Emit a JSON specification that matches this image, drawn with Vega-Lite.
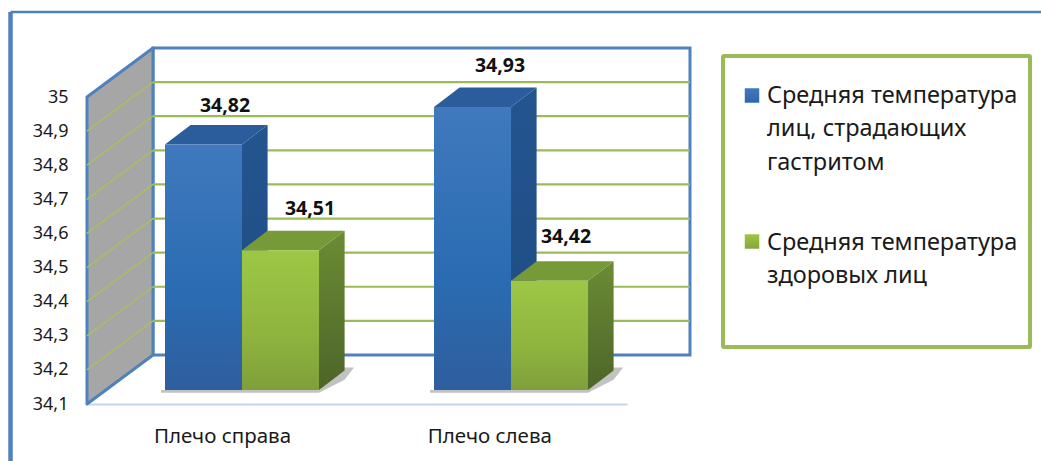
{
"$schema":"https://vega.github.io/schema/vega-lite/v6.json",
"width":540,"height":307,
"autosize":{"type":"none"},
"padding":{"left":87,"top":97,"right":414,"bottom":57},
"background":"white",
"config":{"view":{"stroke":null},"font":"Noto Sans"},
"datasets":{
 "bars":[
  {"shoulder":"Плечо справа","series":"Средняя температура лиц, страдающих гастритом","value":34.82},
  {"shoulder":"Плечо справа","series":"Средняя температура здоровых лиц","value":34.51},
  {"shoulder":"Плечо слева","series":"Средняя температура лиц, страдающих гастритом","value":34.93},
  {"shoulder":"Плечо слева","series":"Средняя температура здоровых лиц","value":34.42}
 ],
 "ticks":[{"tick":34.2},{"tick":34.3},{"tick":34.4},{"tick":34.5},{"tick":34.6},{"tick":34.7},{"tick":34.8},{"tick":34.9}],
 "wall":[{"a":0,"low":34.1,"high":35},{"a":0.2444,"low":34.2437,"high":35.1437}],
 "legendLines":[
  {"group":0,"line":0,"label":"Средняя температура"},
  {"group":0,"line":1,"label":"лиц, страдающих"},
  {"group":0,"line":2,"label":"гастритом"},
  {"group":1,"line":0,"label":"Средняя температура"},
  {"group":1,"line":1,"label":"здоровых лиц"}
 ],
 "one":[{"k":1}]
},
"data":{"name":"bars"},
"transform":[
 {"calculate":"datum.shoulder==='Плечо справа'?0:1","as":"g"},
 {"calculate":"datum.series==='Средняя температура здоровых лиц'?1:0","as":"s"},
 {"calculate":"0.2889+datum.g*0.9963+datum.s*0.2852","as":"x0"},
 {"calculate":"datum.x0+0.2852","as":"x1"},
 {"calculate":"datum.value+0.041","as":"top"},
 {"calculate":"34.141","as":"base"}
],
"layer":[
 {"data":{"name":"one"},"mark":{"type":"rule","color":"#4f81bd","strokeWidth":4.5},
  "encoding":{"x":{"datum":-0.2833,"type":"quantitative","scale":{"domain":[0,2],"nice":false},"axis":{"title":null,"values":[0.5,1.49],"tickCount":5,"labelExpr":"datum.value<1?'Плечо справа':'Плечо слева'","labelOverlap":false,"domainColor":"#c6d5e8","domainWidth":2,"ticks":false,"grid":false,"labelFont":"Noto Sans","labelFontSize":20.5,"labelColor":"#1a1a1a","labelPadding":22}},
   "y":{"datum":35.2492,"type":"quantitative","scale":{"domain":[34.1,35],"nice":false},"axis":{"title":null,"values":[34.1,34.2,34.3,34.4,34.5,34.6,34.7,34.8,34.9,35],"tickCount":12,"labelExpr":"replace(format(datum.value,'.1~f'),'.',',')","labelOverlap":false,"domain":false,"ticks":false,"grid":false,"labelFont":"Noto Sans","labelFontSize":18,"labelColor":"#1a1a1a","labelPadding":19}},
   "y2":{"datum":33.9329}}},
 {"data":{"name":"one"},"mark":{"type":"rule","color":"#4f81bd","strokeWidth":2.5},
  "encoding":{"x":{"datum":-0.2833,"type":"quantitative","scale":{"domain":[0,2],"nice":false}},"x2":{"datum":3.5333},
   "y":{"datum":35.2492,"type":"quantitative","scale":{"domain":[34.1,35],"nice":false}}}},
 {"data":{"name":"one"},"mark":{"type":"rect","fill":"white","stroke":"#4f81bd","strokeWidth":3},
  "encoding":{"x":{"datum":0.2444,"type":"quantitative","scale":{"domain":[0,2],"nice":false}},"x2":{"datum":2.2333},
   "y":{"datum":34.2437,"type":"quantitative","scale":{"domain":[34.1,35],"nice":false}},"y2":{"datum":35.1437}}},
 {"data":{"name":"wall"},"mark":{"type":"area","fill":"#a6a6a6","stroke":"#4f81bd","strokeWidth":3,"strokeJoin":"round"},
  "encoding":{"x":{"field":"a","type":"quantitative","scale":{"domain":[0,2],"nice":false}},
   "y":{"field":"low","type":"quantitative","scale":{"domain":[34.1,35],"nice":false}},"y2":{"field":"high"}}},
 {"data":{"name":"ticks"},"transform":[{"calculate":"datum.tick+0.1437","as":"back"}],"mark":{"type":"rule","color":"#9bbb59","strokeWidth":2.2},
  "encoding":{"x":{"datum":0.2444,"type":"quantitative","scale":{"domain":[0,2],"nice":false}},"x2":{"datum":2.2333},
   "y":{"field":"back","type":"quantitative","scale":{"domain":[34.1,35],"nice":false}}}},
 {"data":{"name":"ticks"},"transform":[{"calculate":"datum.tick+0.1437","as":"back"}],"mark":{"type":"rule","color":"#a9c05f","strokeWidth":1.5},
  "encoding":{"x":{"datum":0,"type":"quantitative","scale":{"domain":[0,2],"nice":false}},"x2":{"datum":0.2444},
   "y":{"field":"tick","type":"quantitative","scale":{"domain":[34.1,35],"nice":false}},"y2":{"field":"back"}}},

 {"transform":[{"filter":"datum.s==1"},
   {"calculate":"[datum.x0-0.3,datum.x1,datum.x1+0.0948,datum.x1+0.13]","as":"px"},
   {"calculate":"[datum.base-0.008,datum.base-0.008,datum.base+0.03,datum.base+0.066]","as":"py"},
   {"calculate":"[datum.base,datum.base,datum.base+0.066,datum.base+0.066]","as":"py2"},
   {"flatten":["px","py","py2"]}],
  "mark":{"type":"area","fill":"#a8a8a8","opacity":0.7},
  "encoding":{"detail":{"field":"g"},"x":{"field":"px","type":"quantitative","scale":{"domain":[0,2],"nice":false}},
   "y":{"field":"py","type":"quantitative","scale":{"domain":[34.1,35],"nice":false}},"y2":{"field":"py2"}}},

 {"transform":[{"filter":"datum.s==0"},
   {"calculate":"[datum.x1,datum.x1+0.0948]","as":"px"},
   {"calculate":"[datum.base,datum.base+0.0572]","as":"py"},
   {"calculate":"[datum.top,datum.top+0.0572]","as":"py2"},
   {"flatten":["px","py","py2"]}],
  "mark":{"type":"area","color":{"gradient":"linear","x1":0,"y1":0,"x2":0,"y2":1,"stops":[{"offset":0,"color":"#24558f"},{"offset":1,"color":"#1e4a82"}]}},
  "encoding":{"detail":{"field":"g"},"x":{"field":"px","type":"quantitative","scale":{"domain":[0,2],"nice":false}},
   "y":{"field":"py","type":"quantitative","scale":{"domain":[34.1,35],"nice":false}},"y2":{"field":"py2"}}},
 {"transform":[{"filter":"datum.s==0"},
   {"calculate":"[datum.x0,datum.x0+0.0948,datum.x1,datum.x1+0.0948]","as":"px"},
   {"calculate":"[datum.top,datum.top,datum.top,datum.top+0.0572]","as":"py"},
   {"calculate":"[datum.top,datum.top+0.0572,datum.top+0.0572,datum.top+0.0572]","as":"py2"},
   {"flatten":["px","py","py2"]}],
  "mark":{"type":"area","color":"#2b5c9c"},
  "encoding":{"detail":{"field":"g"},"x":{"field":"px","type":"quantitative","scale":{"domain":[0,2],"nice":false}},
   "y":{"field":"py","type":"quantitative","scale":{"domain":[34.1,35],"nice":false}},"y2":{"field":"py2"}}},
 {"transform":[{"filter":"datum.s==0"}],
  "mark":{"type":"rect","color":{"gradient":"linear","x1":0,"y1":0,"x2":0,"y2":1,"stops":[{"offset":0,"color":"#4079bd"},{"offset":0.6,"color":"#2a6cb2"},{"offset":1,"color":"#2f5e9e"}]}},
  "encoding":{"x":{"field":"x0","type":"quantitative","scale":{"domain":[0,2],"nice":false}},"x2":{"field":"x1"},
   "y":{"field":"top","type":"quantitative","scale":{"domain":[34.1,35],"nice":false}},"y2":{"field":"base"}}},

 {"transform":[{"filter":"datum.s==1"},
   {"calculate":"[datum.x1,datum.x1+0.0948]","as":"px"},
   {"calculate":"[datum.base,datum.base+0.0572]","as":"py"},
   {"calculate":"[datum.top,datum.top+0.0572]","as":"py2"},
   {"flatten":["px","py","py2"]}],
  "mark":{"type":"area","color":{"gradient":"linear","x1":0,"y1":0,"x2":0,"y2":1,"stops":[{"offset":0,"color":"#6b8c34"},{"offset":1,"color":"#4d6529"}]}},
  "encoding":{"detail":{"field":"g"},"x":{"field":"px","type":"quantitative","scale":{"domain":[0,2],"nice":false}},
   "y":{"field":"py","type":"quantitative","scale":{"domain":[34.1,35],"nice":false}},"y2":{"field":"py2"}}},
 {"transform":[{"filter":"datum.s==1"},
   {"calculate":"[datum.x0,datum.x0+0.0948,datum.x1,datum.x1+0.0948]","as":"px"},
   {"calculate":"[datum.top,datum.top,datum.top,datum.top+0.0572]","as":"py"},
   {"calculate":"[datum.top,datum.top+0.0572,datum.top+0.0572,datum.top+0.0572]","as":"py2"},
   {"flatten":["px","py","py2"]}],
  "mark":{"type":"area","color":"#769a38"},
  "encoding":{"detail":{"field":"g"},"x":{"field":"px","type":"quantitative","scale":{"domain":[0,2],"nice":false}},
   "y":{"field":"py","type":"quantitative","scale":{"domain":[34.1,35],"nice":false}},"y2":{"field":"py2"}}},
 {"transform":[{"filter":"datum.s==1"}],
  "mark":{"type":"rect","color":{"gradient":"linear","x1":0,"y1":0,"x2":0,"y2":1,"stops":[{"offset":0,"color":"#9dc745"},{"offset":0.6,"color":"#8fb43f"},{"offset":1,"color":"#7f9f3a"}]}},
  "encoding":{"x":{"field":"x0","type":"quantitative","scale":{"domain":[0,2],"nice":false}},"x2":{"field":"x1"},
   "y":{"field":"top","type":"quantitative","scale":{"domain":[34.1,35],"nice":false}},"y2":{"field":"base"}}},

 {"transform":[
   {"calculate":"[0.5111,0.8259,1.5296,1.7741][datum.g*2+datum.s]","as":"lx"},
   {"calculate":"datum.value+[0.136,0.144,0.143,0.152][datum.g*2+datum.s]","as":"ly"},
   {"calculate":"replace(format(datum.value,'.2f'),'.',',')","as":"txt"}],
  "mark":{"type":"text","font":"Noto Sans","fontWeight":"bold","fontSize":19.5,"color":"#111111","align":"center","baseline":"alphabetic"},
  "encoding":{"text":{"field":"txt"},"x":{"field":"lx","type":"quantitative","scale":{"domain":[0,2],"nice":false}},
   "y":{"field":"ly","type":"quantitative","scale":{"domain":[34.1,35],"nice":false}}}},

 {"data":{"name":"one"},"mark":{"type":"rect","fill":"white","stroke":"#9bbb59","strokeWidth":4,"cornerRadius":1},
  "encoding":{"x":{"datum":2.3556,"type":"quantitative","scale":{"domain":[0,2],"nice":false}},"x2":{"datum":3.4926},
   "y":{"datum":34.2671,"type":"quantitative","scale":{"domain":[34.1,35],"nice":false}},"y2":{"datum":35.1203}}},
 {"data":{"name":"one"},"mark":{"type":"point","shape":"square","size":210,"filled":true,"opacity":1,"color":{"gradient":"linear","x1":0,"y1":0,"x2":0,"y2":1,"stops":[{"offset":0,"color":"#4079bd"},{"offset":1,"color":"#2f66a8"}]}},
  "encoding":{"x":{"datum":2.463,"type":"quantitative","scale":{"domain":[0,2],"nice":false}},
   "y":{"datum":35.0044,"type":"quantitative","scale":{"domain":[34.1,35],"nice":false}}}},
 {"data":{"name":"one"},"mark":{"type":"point","shape":"square","size":210,"filled":true,"opacity":1,"color":{"gradient":"linear","x1":0,"y1":0,"x2":0,"y2":1,"stops":[{"offset":0,"color":"#9dc745"},{"offset":1,"color":"#84a63c"}]}},
  "encoding":{"x":{"datum":2.463,"type":"quantitative","scale":{"domain":[0,2],"nice":false}},
   "y":{"datum":34.5764,"type":"quantitative","scale":{"domain":[34.1,35],"nice":false}}}},
 {"data":{"name":"legendLines"},"transform":[{"calculate":"(datum.group==0?34.9824:34.5515)-datum.line*0.098","as":"ly"}],
  "mark":{"type":"text","font":"Noto Sans","fontSize":23.5,"color":"#1a1a1a","align":"left","baseline":"alphabetic"},
  "encoding":{"text":{"field":"label"},"x":{"datum":2.5185,"type":"quantitative","scale":{"domain":[0,2],"nice":false}},
   "y":{"field":"ly","type":"quantitative","scale":{"domain":[34.1,35],"nice":false}}}}
]
}
